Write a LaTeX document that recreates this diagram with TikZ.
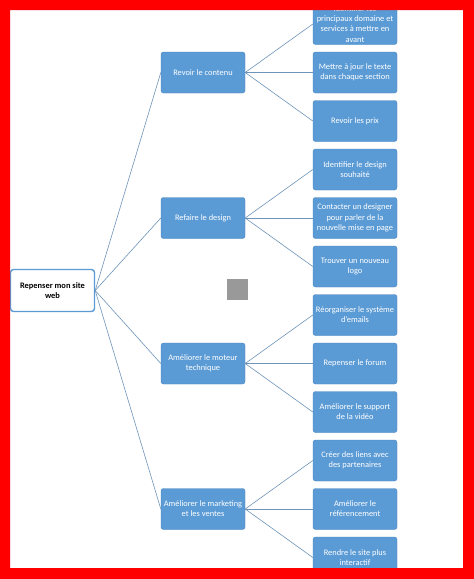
\documentclass[tikz,border=0pt]{standalone}
\usepackage{fontspec}
\setmainfont{Carlito}
\definecolor{boxblue}{RGB}{91,155,213}
\definecolor{boxedge}{RGB}{70,130,190}
\definecolor{linkblue}{RGB}{110,148,185}
\tikzset{
  rootbox/.style={rectangle, rounded corners=3pt, draw=boxblue, line width=1.4pt, fill=white,
    minimum width=84pt, minimum height=42pt, align=center, inner sep=1pt,
    font=\fontsize{8.4}{10.2}\selectfont\bfseries},
  topicbox/.style={rectangle, rounded corners=2.5pt, draw=boxedge, line width=0.4pt, fill=boxblue,
    text=white, minimum width=84pt, minimum height=41pt, align=center, inner sep=1pt,
    font=\fontsize{8.4}{10.2}\selectfont},
  taskbox/.style={topicbox},
  link/.style={draw=linkblue, line width=0.6pt}
}
\begin{document}
\begin{tikzpicture}[x=1pt,y=-1pt]
  \useasboundingbox (0,0) rectangle (474,579);
  \fill[white] (0,0) rectangle (474,579);
  % Root of the tree
  \node[rootbox] (root) at (52.5,290.5) {Repenser mon site\\web};
  % Main topics
  \foreach \i/\t in {1/{Revoir le contenu},2/{Refaire le design},
      3/{Améliorer le moteur\\technique},4/{Améliorer le marketing\\et les ventes}} {
    \node[topicbox] (c\i) at (203,72.5+145.5*\i-145.5) {\t};
    \draw[link] (root.east) -- (c\i.west);
  }
  % Tasks, three per topic
  \foreach \j/\p/\t in {1/1/{Identifier les\\principaux domaine et\\services à mettre en\\avant},
      2/1/{Mettre à jour le texte\\dans chaque section},
      3/1/{Revoir les prix},
      4/2/{Identifier le design\\souhaité},
      5/2/{Contacter un designer\\pour parler de la\\nouvelle mise en page},
      6/2/{Trouver un nouveau\\logo},
      7/3/{Réorganiser le système\\d'emails},
      8/3/{Repenser le forum},
      9/3/{Améliorer le support\\de la vidéo},
      10/4/{Créer des liens avec\\des partenaires},
      11/4/{Améliorer le\\référencement},
      12/4/{Rendre le site plus\\interactif}} {
    \node[taskbox] (l\j) at (355,24+48.5*\j-48.5) {\t};
    \draw[link] (c\p.east) -- (l\j.west);
  }
  % Grey square
  \fill[gray!80] (227,279) rectangle (248,300);
  % Red frame
  \fill[red, even odd rule] (0,0) rectangle (474,579) (10,10) rectangle (463,568);
\end{tikzpicture}
\end{document}
